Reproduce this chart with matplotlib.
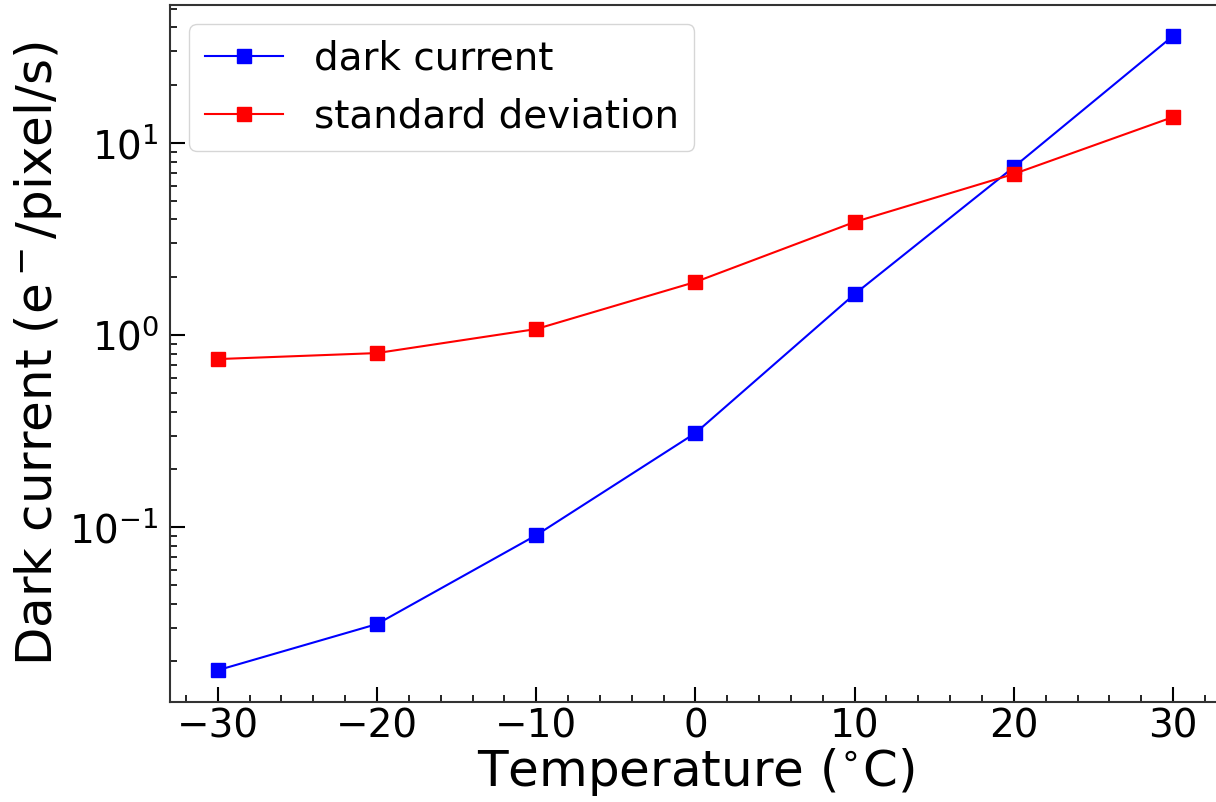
import numpy as np
import matplotlib
matplotlib.use('Agg')
import matplotlib.pyplot as plt
from matplotlib.ticker import MultipleLocator

temperature = [-30, -20, -10, 0, 10, 20, 30]
dark_current = [0.0180, 0.0313, 0.0908, 0.309, 1.635, 7.5, 36.1]
std_dev = [0.75, 0.806, 1.075, 1.89, 3.88, 6.9, 13.65]

fig = plt.figure(figsize=(12.16, 8.02), dpi=100)
ax = fig.add_axes([0.1398, 0.1247, 0.8642, 0.8691])

ax.plot(temperature, dark_current, 's-', color='blue', lw=1.5, ms=10, label='dark current')
ax.plot(temperature, std_dev, 's-', color='red', lw=1.5, ms=10, label='standard deviation')

ax.set_yscale('log')
ax.set_xlim(-33, 33)
ax.set_ylim(0.0123, 52.3)
ax.xaxis.set_minor_locator(MultipleLocator(2))

ax.tick_params(which='both', direction='in', labelsize=28, top=False, right=False)
ax.tick_params(which='major', length=11, width=1.5)
ax.tick_params(which='minor', length=5, width=1.2)
ax.tick_params(axis='x', which='major', pad=4)
ax.tick_params(axis='y', which='major', pad=8)
for s in ax.spines.values():
    s.set_color('#333333')
    s.set_linewidth(1.5)

ax.set_xlabel('Temperature ($^{\\circ}$C)', fontsize=36, labelpad=0)
ax.set_ylabel('Dark current (e$^-$/pixel/s)', fontsize=36)

ax.legend(loc='upper left', fontsize=28)

fig.savefig('out.png', dpi=100)
